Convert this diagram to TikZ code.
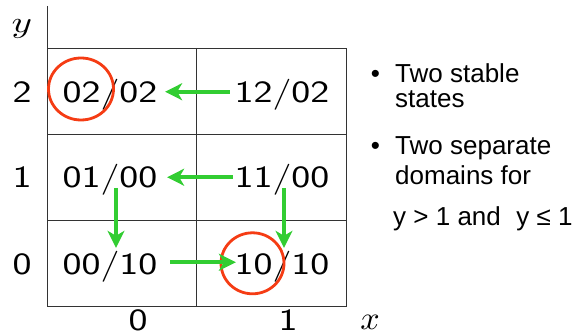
\documentclass[tikz,border=0pt]{standalone}
\usepackage{fontspec}
\usepackage{graphicx}
\newfontfamily\arialfont{Liberation Sans}
\usetikzlibrary{arrows.meta,shapes.geometric}
\definecolor{arrowgreen}{RGB}{50,205,50}
\definecolor{ringred}{RGB}{245,60,20}
\newcommand\stretchtxt[1]{\scalebox{1.3}[1]{#1}}
\begin{document}
\begin{tikzpicture}[x=1pt,y=-1pt,
  grid/.style={draw=black!80,line width=0.9pt},
  cell/.style={inner sep=0pt,anchor=base,font=\fontsize{31}{31}\selectfont\sffamily,text height=21.5pt,text depth=0pt},
  garrow/.style={draw=arrowgreen,line width=4pt,-{Stealth[length=17pt,width=17pt,inset=5pt]}},
  ring/.style={draw=ringred,line width=2.8pt,ellipse,inner sep=0pt},
  txt/.style={inner sep=0pt,font=\arialfont\fontsize{26}{26}\selectfont}]
\useasboundingbox (0,0) rectangle (587,336);
% grid
\draw[grid] (47,6) -- (47,306) -- (346,306) -- (346,48) -- (47,48);
\draw[grid] (196,48) -- (196,306);
\draw[grid] (47,134) -- (346,134);
\draw[grid] (47,220) -- (346,220);
% cells
\node[cell] (c02) at (110,102.5) {\stretchtxt{02/02}};
\node[cell] (c12) at (282,102.5) {\stretchtxt{12/02}};
\node[cell] (c01) at (110,188) {\stretchtxt{01/00}};
\node[cell] (c11) at (282,188) {\stretchtxt{11/00}};
\node[cell] (c00) at (110,275) {\stretchtxt{00/10}};
\node[cell] (c10) at (282,275) {\stretchtxt{10/10}};
% axis labels
\node[cell] (l2) at (22,102.5) {\stretchtxt{2}};
\node[cell] (l1) at (22,188) {\stretchtxt{1}};
\node[cell] (l0) at (22,275) {\stretchtxt{0}};
\node[cell] (b0) at (138,331) {\stretchtxt{0}};
\node[cell] (b1) at (288,331) {\stretchtxt{1}};
\node[inner sep=0pt,anchor=base] (ly) at (22,33) {\scalebox{3.9}[3]{$y$}};
\node[inner sep=0pt,anchor=base] (lx) at (370,330) {\scalebox{3.4}[3.3]{$x$}};
% stable states
\node[ring,minimum width=65pt,minimum height=62pt] (s1) at (81,89) {};
\node[ring,minimum width=63pt,minimum height=61pt] (s2) at (252.5,263.3) {};
% arrows
\draw[garrow] ([xshift=-4.6pt]c12.west) -- ([xshift=7.6pt]c02.east);
\draw[garrow] ([xshift=-1.6pt]c11.west) -- ([xshift=9.6pt]c01.east);
\draw[garrow] ([xshift=12.6pt,yshift=2pt]c00.east) -- ([xshift=1.4pt,yshift=2pt]c10.west);
\draw[garrow] ([xshift=6pt]c01.base) -- ([xshift=6pt,yshift=5.5pt]c00.north);
\draw[garrow] ([xshift=2pt]c11.base) -- ([xshift=2pt,yshift=5.5pt]c10.north);
% bullet text
\node[txt,anchor=base] (bu1) at (375.5,83) {•};
\node[txt,anchor=base west] (t1) at (395,83) {Two stable};
\node[txt,anchor=base west] (t2) at (395,108) {states};
\node[txt,anchor=base] (bu2) at (375.5,155) {•};
\node[txt,anchor=base west] (t3) at (395,155) {Two separate};
\node[txt,anchor=base west] (t4) at (395,185) {domains for};
\node[txt,anchor=base west] (t5) at (393,226) {y > 1 and\hspace{0.6em}y ≤ 1};
\end{tikzpicture}
\end{document}
